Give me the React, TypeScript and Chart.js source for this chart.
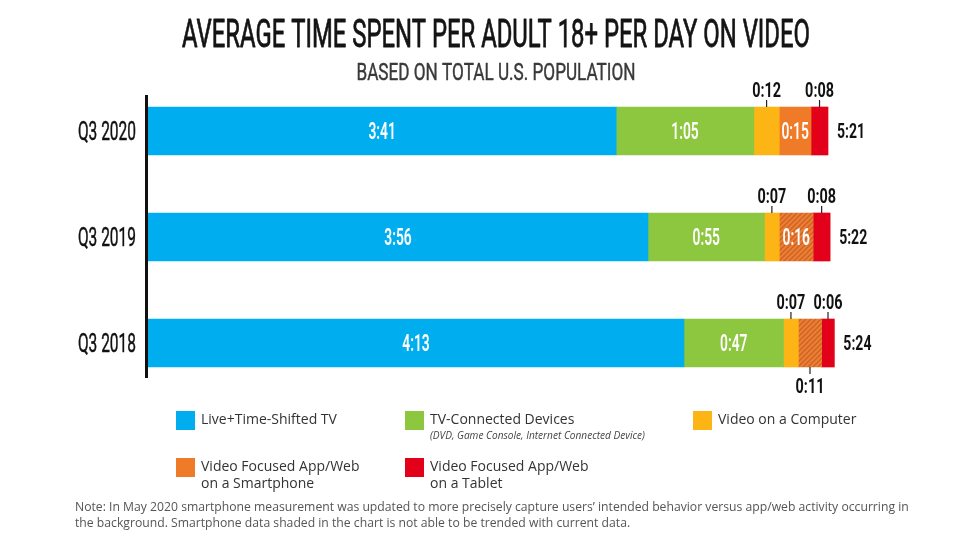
import React, { useEffect, useRef } from "react";
import { Chart, registerables } from "chart.js";

Chart.register(...registerables);

// ---------- data ----------
const categories = ["Q3 2020", "Q3 2019", "Q3 2018"];
const liveTv = [221, 236, 253];
const tvConnected = [65, 55, 47];
const computer = [12, 7, 7];
const smartphone = [15, 16, 11];
const tablet = [8, 8, 6];
const smartphoneShaded = [false, true, true];

const seriesNames = [
  ["Live+Time-Shifted TV"],
  ["TV-Connected Devices"],
  ["Video on a Computer"],
  ["Video Focused App/Web", "on a Smartphone"],
  ["Video Focused App/Web", "on a Tablet"],
];
const tvConnectedSub = "(DVD, Game Console, Internet Connected Device)";
const titleText = "AVERAGE TIME SPENT PER ADULT 18+ PER DAY ON VIDEO";
const subtitleText = "BASED ON TOTAL U.S. POPULATION";
const noteLines = [
  "Note: In May 2020 smartphone measurement was updated to more precisely capture users\u2019 intended behavior versus app/web activity occurring in",
  "the background. Smartphone data shaded in the chart is not able to be trended with current data.",
];

// ---------- style ----------
const COLORS = ["#00AEEF", "#8DC63F", "#FDB515", "#EF7A27", "#E2001A"];
const CONDENSED = 'Roboto, "DejaVu Sans", sans-serif';
const SANS = '"Open Sans", "Noto Sans", sans-serif';

function fmt(min: number): string {
  const h = Math.floor(min / 60);
  const m = min % 60;
  return `${h}:${m < 10 ? "0" : ""}${m}`;
}

function makeHatch(base: string, stripe: string): CanvasPattern | string {
  const c = document.createElement("canvas");
  c.width = 5;
  c.height = 5;
  const g = c.getContext("2d");
  if (!g) return base;
  g.fillStyle = base;
  g.fillRect(0, 0, 5, 5);
  g.strokeStyle = stripe;
  g.lineWidth = 1.4;
  g.beginPath();
  g.moveTo(-1, 6);
  g.lineTo(6, -1);
  g.moveTo(-1, 1);
  g.lineTo(1, -1);
  g.moveTo(4, 6);
  g.lineTo(6, 4);
  g.stroke();
  const p = g.createPattern(c, "repeat");
  return p || base;
}

function condText(
  ctx: CanvasRenderingContext2D,
  text: string,
  x: number,
  baseline: number,
  size: number,
  weight: string | number,
  color: string,
  align: "left" | "center" | "right",
  scaleX: number,
  fitWidth?: number,
  strokeW?: number
) {
  ctx.save();
  ctx.font = `${weight} ${size}px ${CONDENSED}`;
  ctx.fillStyle = color;
  ctx.textBaseline = "alphabetic";
  ctx.textAlign = "left";
  const raw = ctx.measureText(text).width;
  const sx = fitWidth ? fitWidth / raw : scaleX;
  const w = raw * sx;
  const x0 = align === "center" ? x - w / 2 : align === "right" ? x - w : x;
  ctx.translate(x0, baseline);
  ctx.scale(sx, 1);
  ctx.fillText(text, 0, 0);
  if (strokeW) {
    ctx.strokeStyle = color;
    ctx.lineWidth = strokeW;
    ctx.lineJoin = "round";
    ctx.strokeText(text, 0, 0);
  }
  ctx.restore();
}

const decorPlugin = {
  id: "decor",
  beforeDraw(chart: any) {
    const ctx = chart.ctx as CanvasRenderingContext2D;
    ctx.save();
    ctx.fillStyle = "#ffffff";
    ctx.fillRect(0, 0, chart.width, chart.height);
    ctx.restore();
  },
  afterDatasetsDraw(chart: any) {
    const ctx = chart.ctx as CanvasRenderingContext2D;
    const area = chart.chartArea;
    const nData = chart.data.datasets.length;
    const metas = chart.data.datasets.map((_: any, d: number) => chart.getDatasetMeta(d));

    // title + subtitle
    condText(ctx, titleText, 496, 47, 38, 400, "#141414", "center", 1, 628, 0.8);
    condText(ctx, subtitleText, 496, 80, 24, 400, "#3a3a3a", "center", 1, 279, 0.45);

    // axis line
    const first = metas[0].data[0].getProps(["y", "height"], true);
    const last = metas[0].data[categories.length - 1].getProps(["y", "height"], true);
    ctx.save();
    ctx.strokeStyle = "#111111";
    ctx.lineWidth = 3;
    ctx.beginPath();
    ctx.moveTo(area.left - 1.5, first.y - 36);
    ctx.lineTo(area.left - 1.5, last.y + 35);
    ctx.stroke();
    ctx.restore();

    // category labels
    categories.forEach((c, i) => {
      const p = metas[0].data[i].getProps(["y"], true);
      condText(ctx, c, area.left - 12, p.y + 9, 25, 400, "#111111", "right", 0.62, undefined, 0.45);
    });

    // segment labels
    for (let d = 0; d < nData; d++) {
      const ds = chart.data.datasets[d];
      metas[d].data.forEach((el: any, i: number) => {
        const { x, base, y, height } = el.getProps(["x", "base", "y", "height"], true);
        const left = Math.min(x, base);
        const right = Math.max(x, base);
        const w = right - left;
        const cx = (left + right) / 2;
        const top = y - height / 2;
        const bottom = y + height / 2;
        const txt = fmt(ds.data[i]);
        let mode = "inside";
        if (d === 2 || d === 4) mode = "above";
        if (d === 3 && w < 28) mode = "below";
        if (mode === "inside") {
          condText(ctx, txt, cx, y + 8, 23, 600, "#ffffff", "center", 0.6);
        } else {
          ctx.save();
          ctx.strokeStyle = "#222222";
          ctx.lineWidth = 1.2;
          ctx.beginPath();
          if (mode === "above") {
            ctx.moveTo(cx, top);
            ctx.lineTo(cx, top - 7);
          } else {
            ctx.moveTo(cx, bottom);
            ctx.lineTo(cx, bottom + 7);
          }
          ctx.stroke();
          ctx.restore();
          const bl = mode === "above" ? top - 10 : bottom + 26;
          condText(ctx, txt, cx, bl, 20, 700, "#111111", "center", 0.72);
        }
      });
    }

    // totals
    categories.forEach((_, i) => {
      const el = metas[nData - 1].data[i].getProps(["x", "y"], true);
      let sum = 0;
      chart.data.datasets.forEach((ds: any) => (sum += ds.data[i]));
      condText(ctx, fmt(sum), el.x + 9, el.y + 7, 20, 700, "#111111", "left", 0.7);
    });

    // legend
    const cols = [176, 405, 693];
    const rows = [411, 458];
    seriesNames.forEach((lines, k) => {
      const col = cols[k % 3];
      const row = rows[Math.floor(k / 3)];
      ctx.save();
      ctx.fillStyle = COLORS[k];
      ctx.fillRect(col, row, 19, 19);
      ctx.fillStyle = "#333333";
      ctx.font = `14px ${SANS}`;
      ctx.textBaseline = "middle";
      ctx.textAlign = "left";
      lines.forEach((ln, j) => {
        ctx.fillText(ln, col + 25, row + 9.5 + j * 17);
      });
      if (k === 1) {
        ctx.font = `italic 10.1px ${SANS}`;
        ctx.fillStyle = "#444444";
        ctx.fillText(tvConnectedSub, col + 25, row + 25);
      }
      ctx.restore();
    });

    // note
    ctx.save();
    ctx.fillStyle = "#555555";
    ctx.font = `12.2px ${SANS}`;
    ctx.textBaseline = "alphabetic";
    ctx.textAlign = "left";
    noteLines.forEach((ln, j) => ctx.fillText(ln, 75, 511 + j * 15.5));
    ctx.restore();
  },
};

export default function App() {
  const ref = useRef<HTMLCanvasElement | null>(null);
  useEffect(() => {
    if (!ref.current) return;
    const hatch = makeHatch("#EC7F35", "#CC6322");
    const smartphoneColors = smartphoneShaded.map((s) => (s ? hatch : COLORS[3]));
    const chart = new Chart(ref.current, {
      type: "bar",
      data: {
        labels: categories,
        datasets: [
          { label: seriesNames[0].join(" "), data: liveTv, backgroundColor: COLORS[0] },
          { label: seriesNames[1].join(" "), data: tvConnected, backgroundColor: COLORS[1] },
          { label: seriesNames[2].join(" "), data: computer, backgroundColor: COLORS[2] },
          { label: seriesNames[3].join(" "), data: smartphone, backgroundColor: smartphoneColors as any },
          { label: seriesNames[4].join(" "), data: tablet, backgroundColor: COLORS[4] },
        ].map((d) => ({ ...d, borderWidth: 0, barThickness: 48 })),
      },
      options: {
        indexAxis: "y",
        animation: false,
        responsive: false,
        devicePixelRatio: 1,
        layout: { padding: { left: 148, right: 17, top: 78, bottom: 142 } },
        scales: {
          x: { stacked: true, min: 0, max: 380, display: false },
          y: { stacked: true, display: false },
        },
        plugins: {
          legend: { display: false },
          title: { display: false },
          tooltip: { enabled: false },
        },
      },
      plugins: [decorPlugin],
    });
    return () => chart.destroy();
  }, []);
  return (
    <div style={{ position: "absolute", left: 0, top: 0, width: 970, height: 538, background: "#fff" }}>
      <canvas ref={ref} width={970} height={538} />
    </div>
  );
}
